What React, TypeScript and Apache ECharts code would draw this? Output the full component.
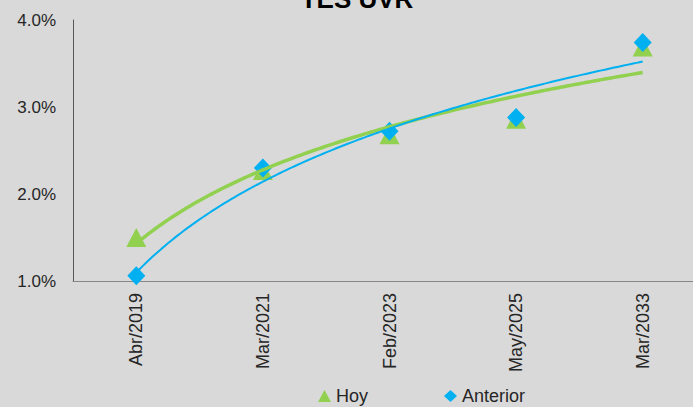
import React, { useEffect, useRef } from "react";
import * as echarts from "echarts";

// Vencimientos de los TES UVR
const categories = ["Abr/2019", "Mar/2021", "Feb/2023", "May/2025", "Mar/2033"];
// Tasas (%) de hoy y de la fecha anterior
const hoy = [1.5, 2.27, 2.68, 2.86, 3.69];
const anterior = [1.06, 2.3, 2.72, 2.88, 3.74];
const yTicks = { min: 1, max: 4, interval: 1 };

const GREEN = "#92D050";
const BLUE = "#00B0F0";
const FONT = "'Liberation Sans', Arial, sans-serif";

// Logarithmic least-squares trend (y = a + b·ln x) over category positions 1..n
function logTrend(values: number[]): number[][] {
  const xs = values.map((_, i) => Math.log(i + 1));
  const n = values.length;
  const mx = xs.reduce((s, v) => s + v, 0) / n;
  const my = values.reduce((s, v) => s + v, 0) / n;
  let sxx = 0;
  let sxy = 0;
  xs.forEach((x, i) => {
    sxx += (x - mx) * (x - mx);
    sxy += (x - mx) * (values[i] - my);
  });
  const b = sxy / sxx;
  const a = my - b * mx;
  const pts: number[][] = [];
  for (let k = 0; k <= (n - 1) * 40; k++) {
    const x = 1 + k / 40;
    pts.push([x, a + b * Math.log(x)]);
  }
  return pts;
}

export default function App() {
  const ref = useRef<HTMLDivElement>(null);

  useEffect(() => {
    if (!ref.current) return;
    const chart = echarts.init(ref.current, undefined, { renderer: "svg" });
    chart.setOption({
      animation: false,
      backgroundColor: "#D9D9D9",
      textStyle: { fontFamily: FONT },
      graphic: [
        {
          type: "text",
          x: 357,
          y: 12,
          style: {
            text: "TES UVR",
            fill: "#000",
            font: `bold 26px ${FONT}`,
            align: "center",
            verticalAlign: "bottom",
          },
        },
      ],
      // plot area runs past the right edge of the canvas
      grid: {
        left: 73,
        width: 633,
        top: 20,
        bottom: 126,
        outerBoundsMode: "none",
        containLabel: false,
      },
      legend: {
        left: 313,
        top: 382,
        itemWidth: 13,
        itemHeight: 12,
        itemGap: 76,
        textStyle: { fontSize: 18, color: "#262626", fontFamily: FONT },
        data: [
          { name: "Hoy", icon: "triangle" },
          { name: "Anterior", icon: "diamond" },
        ],
      },
      xAxis: [
        {
          type: "category",
          data: categories,
          boundaryGap: true,
          axisLine: { show: true, lineStyle: { color: "#868686", width: 1 } },
          axisTick: { show: false },
          axisLabel: {
            rotate: 90,
            margin: 12,
            fontSize: 18,
            color: "#262626",
            fontFamily: FONT,
          },
          splitLine: { show: false },
        },
        {
          type: "value",
          min: 0.5,
          max: 5.5,
          show: false,
        },
      ],
      yAxis: {
        type: "value",
        min: yTicks.min,
        max: yTicks.max,
        interval: yTicks.interval,
        axisLine: { show: true, lineStyle: { color: "#595959", width: 1 } },
        axisTick: { show: false },
        splitLine: { show: false },
        axisLabel: {
          margin: 17,
          fontSize: 17,
          color: "#262626",
          fontFamily: FONT,
          formatter: (v: number) => v.toFixed(1) + "%",
        },
      },
      series: [
        {
          name: "Tendencia Hoy",
          type: "line",
          xAxisIndex: 1,
          data: logTrend(hoy),
          showSymbol: false,
          smooth: false,
          lineStyle: { color: GREEN, width: 3.5 },
          silent: true,
        },
        {
          name: "Tendencia Anterior",
          type: "line",
          xAxisIndex: 1,
          data: logTrend(anterior),
          showSymbol: false,
          smooth: false,
          lineStyle: { color: BLUE, width: 2 },
          silent: true,
        },
        {
          name: "Hoy",
          type: "scatter",
          xAxisIndex: 0,
          data: hoy,
          symbol: "triangle",
          symbolSize: [20, 19],
          itemStyle: { color: GREEN, opacity: 1 },
        },
        {
          name: "Anterior",
          type: "scatter",
          xAxisIndex: 0,
          data: anterior,
          symbol: "diamond",
          symbolSize: [18, 19],
          itemStyle: { color: BLUE, opacity: 1 },
        },
      ],
    });
    return () => chart.dispose();
  }, []);

  return (
    <div
      ref={ref}
      style={{ position: "fixed", left: 0, top: 0, width: 693, height: 407 }}
    />
  );
}
